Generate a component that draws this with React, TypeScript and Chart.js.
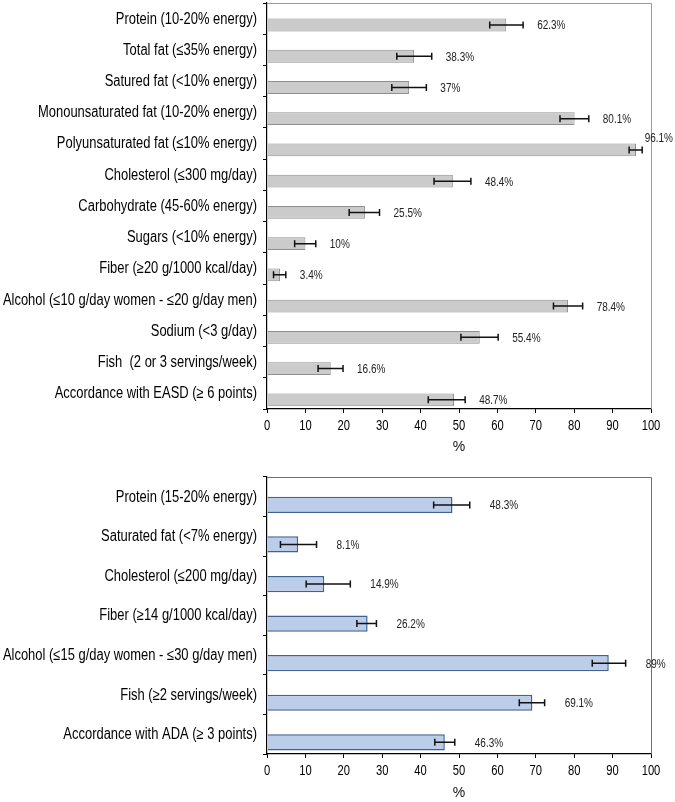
import { useEffect, useRef } from "react";
import { Chart, registerables } from "chart.js";

Chart.register(...registerables);

// EASD recommendations (top chart)
const easdCategories = [
  "Protein (10-20% energy)",
  "Total fat (≤35% energy)",
  "Satured fat (<10% energy)",
  "Monounsaturated fat (10-20% energy)",
  "Polyunsaturated fat (≤10% energy)",
  "Cholesterol (≤300 mg/day)",
  "Carbohydrate (45-60% energy)",
  "Sugars (<10% energy)",
  "Fiber (≥20 g/1000 kcal/day)",
  "Alcohol (≤10 g/day women - ≤20 g/day men)",
  "Sodium (<3 g/day)",
  "Fish  (2 or 3 servings/week)",
  "Accordance with EASD (≥ 6 points)",
];
const easdValues = [62.3, 38.3, 37, 80.1, 96.1, 48.4, 25.5, 10, 3.4, 78.4, 55.4, 16.6, 48.7];
const easdLow = [58.0, 33.8, 32.5, 76.3, 94.3, 43.5, 21.4, 7.2, 1.7, 74.6, 50.5, 13.3, 42.0];
const easdHigh = [66.7, 42.9, 41.5, 83.8, 97.7, 53.1, 29.3, 12.7, 4.9, 82.2, 60.2, 19.8, 51.6];

// ADA recommendations (bottom chart)
const adaCategories = [
  "Protein (15-20% energy)",
  "Saturated fat (<7% energy)",
  "Cholesterol (≤200 mg/day)",
  "Fiber (≥14 g/1000 kcal/day)",
  "Alcohol (≤15 g/day women - ≤30 g/day men)",
  "Fish (≥2 servings/week)",
  "Accordance with ADA (≥ 3 points)",
];
const adaValues = [48.3, 8.1, 14.9, 26.2, 89, 69.1, 46.3];
const adaLow = [43.4, 3.5, 10.2, 23.4, 84.7, 65.7, 43.7];
const adaHigh = [52.8, 12.9, 21.7, 28.5, 93.4, 72.3, 48.9];

const xTicks = [0, 10, 20, 30, 40, 50, 60, 70, 80, 90, 100];

const FONT = "'Liberation Sans', Arial, sans-serif";

// draw text squeezed horizontally (the original uses a narrow face)
function narrowText(
  ctx: CanvasRenderingContext2D,
  text: string,
  x: number,
  y: number,
  squeeze: number,
  align: "left" | "right" | "center"
) {
  ctx.save();
  ctx.translate(x, y);
  ctx.scale(squeeze, 1);
  ctx.textAlign = align;
  ctx.fillText(text, 0, 0);
  ctx.restore();
}

const errorBarPlugin = {
  id: "errorBars",
  afterDraw(chart: any, _args: any, opts: any) {
    const { ctx, chartArea, scales } = chart;
    const x = scales.x;
    const y = scales.y;

    // frame on top / right
    ctx.save();
    ctx.strokeStyle = opts.frameColor;
    ctx.lineWidth = 1;
    ctx.beginPath();
    ctx.moveTo(chartArea.left, chartArea.top + 0.5);
    ctx.lineTo(chartArea.right + 0.5, chartArea.top + 0.5);
    ctx.lineTo(chartArea.right + 0.5, chartArea.bottom);
    ctx.stroke();

    // category labels
    ctx.fillStyle = "#000";
    ctx.textBaseline = "middle";
    ctx.font = `16px ${FONT}`;
    chart.data.labels.forEach((label: string, i: number) => {
      narrowText(ctx, label, chartArea.left - 10, y.getPixelForValue(i) + 0.5, 0.81, "right");
    });

    // value axis labels
    ctx.font = `14px ${FONT}`;
    x.ticks.forEach((t: any) => {
      narrowText(ctx, String(t.value), x.getPixelForValue(t.value), chartArea.bottom + 17, 0.8, "center");
    });

    // error bars + value labels
    const meta = chart.getDatasetMeta(1);
    const values: number[] = chart.data.datasets[1].data;
    ctx.font = `12.5px ${FONT}`;
    meta.data.forEach((bar: any, i: number) => {
      const yc = bar.y;
      const x0 = x.getPixelForValue(opts.low[i]);
      const x1 = x.getPixelForValue(opts.high[i]);
      ctx.strokeStyle = "#111";
      ctx.lineWidth = 1.5;
      ctx.beginPath();
      ctx.moveTo(x0, yc);
      ctx.lineTo(x1, yc);
      ctx.moveTo(x0, yc - 3.5);
      ctx.lineTo(x0, yc + 3.5);
      ctx.moveTo(x1, yc - 3.5);
      ctx.lineTo(x1, yc + 3.5);
      ctx.stroke();

      const text = `${values[i]}%`;
      const w = ctx.measureText(text).width * 0.8;
      let tx = x1 + opts.gap;
      let ty = yc + 1;
      if (tx + w > chart.width - 2) {
        tx = chart.width - w - 2;
        ty -= 12;
      }
      ctx.fillStyle = "#222";
      narrowText(ctx, text, tx, ty, 0.8, "left");
    });
    ctx.restore();
  },
};

type BarChartProps = {
  categories: string[];
  values: number[];
  low: number[];
  high: number[];
  height: number;
  top: number;
  axisHeight: number;
  titlePad: number;
  fill: string;
  stroke: string;
  strokeWidth: number;
  frameColor: string;
  gap: number;
};

function ErrorBarChart(props: BarChartProps) {
  const canvasRef = useRef<HTMLCanvasElement>(null);

  useEffect(() => {
    if (!canvasRef.current) return;
    const chart = new Chart(canvasRef.current, {
      type: "bar",
      data: {
        labels: props.categories,
        datasets: [
          // empty first series, as in the original clustered layout
          {
            data: props.categories.map(() => null),
            backgroundColor: "transparent",
            categoryPercentage: 0.82,
            barPercentage: 1,
          },
          {
            data: props.values,
            backgroundColor: props.fill,
            borderColor: props.stroke,
            borderWidth: props.strokeWidth,
            categoryPercentage: 0.82,
            barPercentage: 1,
          },
        ],
      },
      options: {
        indexAxis: "y",
        animation: false,
        responsive: false,
        layout: { padding: { top: props.top, right: 24, bottom: 0, left: 0 } },
        plugins: {
          legend: { display: false },
          tooltip: { enabled: false },
          errorBars: {
            low: props.low,
            high: props.high,
            frameColor: props.frameColor,
            gap: props.gap,
          },
        } as any,
        scales: {
          x: {
            type: "linear",
            min: 0,
            max: 100,
            afterBuildTicks: (scale: any) => {
              scale.ticks = xTicks.map((v) => ({ value: v }));
            },
            afterFit: (scale: any) => {
              scale.height = props.axisHeight;
            },
            grid: {
              drawOnChartArea: false,
              drawTicks: true,
              tickLength: 4,
              color: "#000",
            },
            border: { color: "#000", width: 1.2 },
            ticks: { display: false },
            title: {
              display: true,
              text: "%",
              color: "#111",
              padding: { top: 0, bottom: props.titlePad },
              font: { family: FONT, size: 14 },
            },
          },
          y: {
            type: "category",
            afterFit: (scale: any) => {
              scale.width = 267;
            },
            grid: {
              drawOnChartArea: false,
              drawTicks: true,
              tickLength: 4,
              offset: true,
              color: "#000",
            },
            border: { color: "#000", width: 1.2 },
            ticks: { display: false, autoSkip: false },
          },
        },
      },
      plugins: [errorBarPlugin],
    } as any);
    return () => chart.destroy();
  }, [props]);

  return (
    <canvas
      ref={canvasRef}
      width={675}
      height={props.height}
      style={{ display: "block", width: 675, height: props.height }}
    />
  );
}

const topProps: BarChartProps = {
  categories: easdCategories,
  values: easdValues,
  low: easdLow,
  high: easdHigh,
  height: 460,
  top: 3,
  axisHeight: 51,
  titlePad: 4,
  fill: "#cbcbcb",
  stroke: "#8f8f8f",
  strokeWidth: 1,
  frameColor: "#9a9a9a",
  gap: 14,
};

const bottomProps: BarChartProps = {
  categories: adaCategories,
  values: adaValues,
  low: adaLow,
  high: adaHigh,
  height: 342,
  top: 17,
  axisHeight: 48,
  titlePad: 0,
  fill: "#bccde9",
  stroke: "#41618f",
  strokeWidth: 1.5,
  frameColor: "#5574a3",
  gap: 20,
};

export default function App() {
  useEffect(() => {
    document.body.style.margin = "0";
  }, []);
  return (
    <div style={{ width: 675, height: 802, background: "#fff" }}>
      <ErrorBarChart {...topProps} />
      <ErrorBarChart {...bottomProps} />
    </div>
  );
}
